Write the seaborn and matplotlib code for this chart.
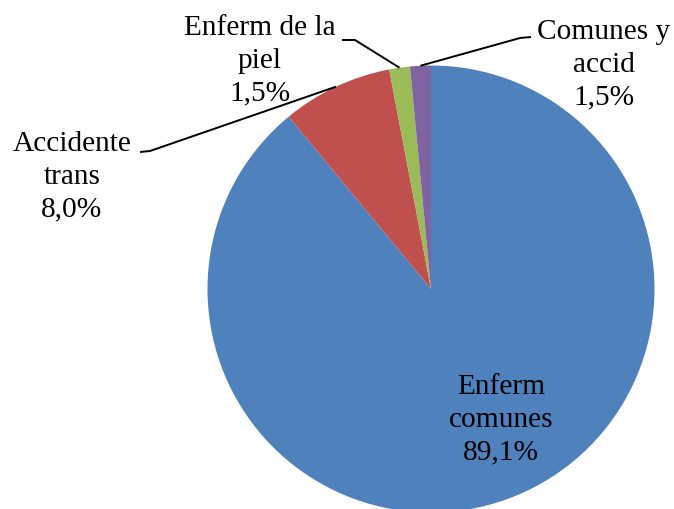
import matplotlib
matplotlib.use("Agg")
import matplotlib.pyplot as plt
import seaborn as sns
import numpy as np

# ---- data ----
categories = ["Enferm\ncomunes", "Accidente\ntrans", "Enferm de la\npiel", "Comunes y\naccid"]
values = [89.1, 8.0, 1.5, 1.5]
colors = ["#4F81BD", "#C0504D", "#9BBB59", "#8064A2"]

# ---- layout (pixels, top-left origin) ----
W, H = 674, 509
pie_cx, pie_cy, pie_r = 431, 289, 223.5
label_pos = [(501, 420), (72, 177), (260, 61), (604, 65)]
# leader lines: (text-side start, elbow) or None
leaders = [None, ((140, 152), (150, 151)), ((342, 40), (355, 40)), ((531, 37), (520, 38))]

sns.set_theme(style="white")
plt.rcParams["font.family"] = ["Liberation Serif", "DejaVu Serif"]

fig = plt.figure(figsize=(W / 100, H / 100), dpi=100)
ax = fig.add_axes([0, 0, 1, 1])

pal = sns.color_palette(colors)
wedges, _ = ax.pie(values, colors=pal, startangle=90, counterclock=False,
                   center=(pie_cx, H - pie_cy), radius=pie_r,
                   wedgeprops=dict(linewidth=0))
ax.set_xlim(0, W)
ax.set_ylim(0, H)
ax.set_aspect("equal")
ax.axis("off")

for w, cat, val, (lx, ly), lead in zip(wedges, categories, values, label_pos, leaders):
    txt = f"{cat}\n{val:.1f}".replace(".", ",") + "%"
    ax.text(lx, H - ly, txt, ha="center", va="center", multialignment="center",
            fontsize=21.2, color="black", linespacing=1.33)
    if lead is not None:
        mid = np.deg2rad((w.theta1 + w.theta2) / 2)
        ex = pie_cx + pie_r * np.cos(mid)
        ey = (H - pie_cy) + pie_r * np.sin(mid)
        (sx, sy), (bx, by) = lead
        ax.plot([sx, bx, ex], [H - sy, H - by, ey], color="black", lw=1.4,
                solid_capstyle="butt", clip_on=False)

fig.savefig("out.png", dpi=100)
